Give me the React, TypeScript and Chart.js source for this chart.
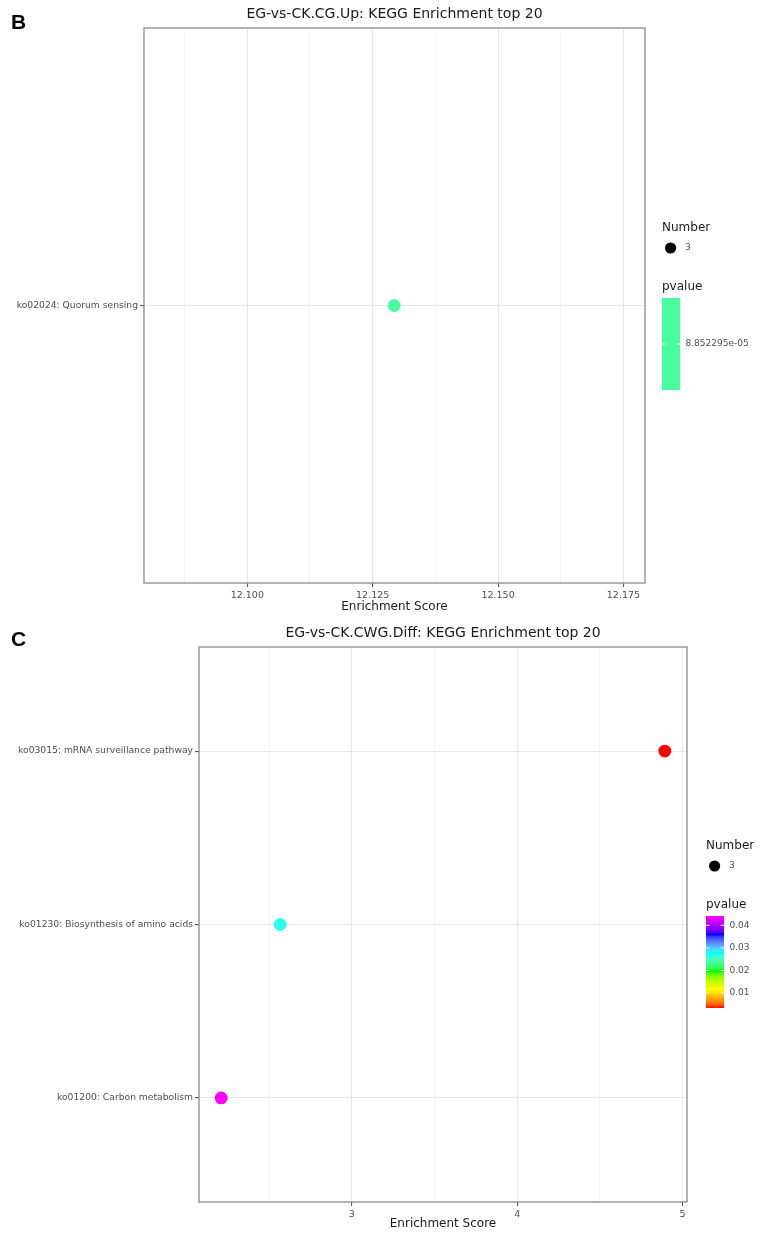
import React, { useEffect, useRef } from 'react';
import { Chart, registerables } from 'chart.js';
Chart.register(...registerables);

const FONT = "'DejaVu Sans', 'Noto Sans', sans-serif";

// ---------- Panel B data ----------
const B_TITLE = 'EG-vs-CK.CG.Up: KEGG Enrichment top 20';
const B_PATHWAYS = ['ko02024: Quorum sensing'];
const B_SCORES = [12.1293];
const B_PVALUES = [8.852295e-5];
const B_NUMBERS = [3];
const B_X_TICKS = [12.1, 12.125, 12.15, 12.175];
const B_X_LIMITS = [12.0794, 12.1793];
const B_P_TICKS = [8.852295e-5];
const B_P_TICK_LABELS = ['8.852295e-05'];
const B_SIZE_KEYS = [3];

// ---------- Panel C data ----------
const C_TITLE = 'EG-vs-CK.CWG.Diff: KEGG Enrichment top 20';
const C_PATHWAYS = [
  'ko03015: mRNA surveillance pathway',
  'ko01230: Biosynthesis of amino acids',
  'ko01200: Carbon metabolism',
];
const C_SCORES = [4.893, 2.567, 2.21];
const C_PVALUES = [0.0034, 0.027, 0.0441];
const C_NUMBERS = [3, 3, 3];
const C_X_TICKS = [3, 4, 5];
const C_X_LIMITS = [2.076, 5.027];
const C_P_TICKS = [0.01, 0.02, 0.03, 0.04];
const C_P_TICK_LABELS = ['0.01', '0.02', '0.03', '0.04'];
const C_SIZE_KEYS = [3];

const RAINBOW = [
  [255, 0, 0],
  [255, 255, 0],
  [0, 255, 0],
  [0, 255, 255],
  [0, 0, 255],
  [255, 0, 255],
];

// --- Lab interpolation (like ggplot's gradient_n_pal) ---
function toLin(c: number) {
  const v = c / 255;
  return v <= 0.04045 ? v / 12.92 : Math.pow((v + 0.055) / 1.055, 2.4);
}
function fromLin(v: number) {
  const c = v <= 0.0031308 ? 12.92 * v : 1.055 * Math.pow(v, 1 / 2.4) - 0.055;
  return Math.round(Math.max(0, Math.min(1, c)) * 255);
}
const WX = 0.95047, WY = 1.0, WZ = 1.08883;
function fLab(t: number) {
  return t > 216 / 24389 ? Math.cbrt(t) : (24389 / 27 * t + 16) / 116;
}
function fInv(t: number) {
  const t3 = t * t * t;
  return t3 > 216 / 24389 ? t3 : (116 * t - 16) / (24389 / 27);
}
function rgbToLab(rgb: number[]) {
  const r = toLin(rgb[0]), g = toLin(rgb[1]), b = toLin(rgb[2]);
  const x = 0.4124 * r + 0.3576 * g + 0.1805 * b;
  const y = 0.2126 * r + 0.7152 * g + 0.0722 * b;
  const z = 0.0193 * r + 0.1192 * g + 0.9505 * b;
  const fx = fLab(x / WX), fy = fLab(y / WY), fz = fLab(z / WZ);
  return [116 * fy - 16, 500 * (fx - fy), 200 * (fy - fz)];
}
function labToRgb(lab: number[]) {
  const fy = (lab[0] + 16) / 116;
  const fx = fy + lab[1] / 500;
  const fz = fy - lab[2] / 200;
  const x = WX * fInv(fx), y = WY * fInv(fy), z = WZ * fInv(fz);
  const r = 3.2406 * x - 1.5372 * y - 0.4986 * z;
  const g = -0.9689 * x + 1.8758 * y + 0.0415 * z;
  const b = 0.0557 * x - 0.204 * y + 1.057 * z;
  return [fromLin(r), fromLin(g), fromLin(b)];
}
const RAINBOW_LAB = RAINBOW.map(rgbToLab);

function rainbowAt(t: number): string {
  const tt = Math.max(0, Math.min(1, t));
  const seg = tt * (RAINBOW_LAB.length - 1);
  const i = Math.min(RAINBOW_LAB.length - 2, Math.floor(seg));
  const f = seg - i;
  const a = RAINBOW_LAB[i];
  const b = RAINBOW_LAB[i + 1];
  const lab = a.map((v, k) => v + (b[k] - v) * f);
  const c = labToRgb(lab);
  return `rgb(${c[0]},${c[1]},${c[2]})`;
}

function makeColorFn(pvalues: number[]) {
  const lo = Math.min(...pvalues);
  const hi = Math.max(...pvalues);
  return (p: number) => (hi === lo ? rainbowAt(0.5) : rainbowAt((p - lo) / (hi - lo)));
}

interface PanelSpec {
  letter: string;
  title: string;
  pathways: string[];
  scores: number[];
  pvalues: number[];
  numbers: number[];
  xTicks: number[];
  xLimits: number[];
  xFormat: (v: number) => string;
  pTicks: number[];
  pTickLabels: string[];
  sizeKeys: number[];
  height: number;
  area: { left: number; right: number; top: number; bottom: number };
  titleY: number;
  letterY: number;
  xTitlePad: number;
  legendX: number;
}

const WIDTH = 760;

function buildConfig(s: PanelSpec): any {
  const colorOf = makeColorFn(s.pvalues);
  const step = s.xTicks[1] - s.xTicks[0];
  const gridVals: number[] = [];
  const first = s.xTicks[0] - step * Math.ceil((s.xTicks[0] - s.xLimits[0]) / step);
  for (let v = first - step / 2; v <= s.xLimits[1] + 1e-9; v += step / 2) {
    if (v >= s.xLimits[0] - 1e-9) gridVals.push(Number(v.toFixed(6)));
  }
  const isMajor = (v: number) => s.xTicks.some((t) => Math.abs(t - v) < step * 1e-3);

  const points = s.scores.map((x, i) => ({ x, y: i }));

  const decor = {
    id: 'decor' + s.letter,
    afterDraw(chart: any) {
      const ctx = chart.ctx;
      const a = chart.chartArea;
      ctx.save();
      // panel border
      ctx.strokeStyle = '#8a8a8a';
      ctx.lineWidth = 1.3;
      ctx.strokeRect(a.left, a.top, a.right - a.left, a.bottom - a.top);
      // title
      ctx.fillStyle = '#1a1a1a';
      ctx.font = `14px ${FONT}`;
      ctx.textAlign = 'center';
      ctx.textBaseline = 'middle';
      ctx.fillText(s.title, (a.left + a.right) / 2, s.titleY);
      // panel letter
      ctx.font = `bold 21px 'Liberation Sans', Arial, sans-serif`;
      ctx.textAlign = 'left';
      ctx.fillStyle = '#000';
      ctx.fillText(s.letter, 11, s.letterY);

      // legend
      const lx = s.legendX;
      ctx.textAlign = 'left';
      ctx.textBaseline = 'middle';
      ctx.fillStyle = '#1a1a1a';
      ctx.font = `12px ${FONT}`;
      ctx.fillText('Number', lx, 228);
      s.sizeKeys.forEach((k, i) => {
        const y = 248 + i * 17;
        ctx.fillStyle = '#000';
        ctx.beginPath();
        ctx.arc(lx + 8.6, y, 5.6, 0, Math.PI * 2);
        ctx.fill();
        ctx.fillStyle = '#4d4d4d';
        ctx.font = `9px ${FONT}`;
        ctx.fillText(String(k), lx + 23, y);
      });
      ctx.fillStyle = '#1a1a1a';
      ctx.font = `12px ${FONT}`;
      ctx.fillText('pvalue', lx, 287);
      const barTop = 298;
      const barBottom = 390;
      const barW = 18;
      const lo = Math.min(...s.pvalues);
      const hi = Math.max(...s.pvalues);
      if (hi === lo) {
        ctx.fillStyle = colorOf(lo);
      } else {
        const g = ctx.createLinearGradient(0, barBottom, 0, barTop);
        const n = 40;
        for (let i = 0; i <= n; i++) g.addColorStop(i / n, rainbowAt(i / n));
        ctx.fillStyle = g;
      }
      ctx.fillRect(lx, barTop, barW, barBottom - barTop);
      s.pTicks.forEach((p, i) => {
        const y = hi === lo ? (barTop + barBottom) / 2 : barBottom - ((p - lo) / (hi - lo)) * (barBottom - barTop);
        ctx.strokeStyle = 'rgba(255,255,255,0.9)';
        ctx.lineWidth = 1;
        ctx.beginPath();
        ctx.moveTo(lx, y);
        ctx.lineTo(lx + 3.6, y);
        ctx.moveTo(lx + barW - 3.6, y);
        ctx.lineTo(lx + barW, y);
        ctx.stroke();
        ctx.fillStyle = '#4d4d4d';
        ctx.font = `9px ${FONT}`;
        ctx.fillText(s.pTickLabels[i], lx + barW + 5.5, y);
      });
      ctx.restore();
    },
  };

  return {
    type: 'scatter',
    data: {
      datasets: [
        {
          data: points,
          pointRadius: 6.4,
          pointHoverRadius: 6.4,
          pointBorderWidth: 0,
          pointBackgroundColor: s.pvalues.map((p) => colorOf(p)),
          pointBorderColor: s.pvalues.map((p) => colorOf(p)),
        },
      ],
    },
    options: {
      responsive: false,
      animation: false,
      events: [],
      layout: {
        padding: { top: s.area.top, right: WIDTH - s.area.right, left: 0, bottom: 0 },
      },
      plugins: { legend: { display: false }, tooltip: { enabled: false }, title: { display: false } },
      scales: {
        x: {
          type: 'linear',
          min: s.xLimits[0],
          max: s.xLimits[1],
          afterBuildTicks: (sc: any) => {
            sc.ticks = gridVals.map((v) => ({ value: v }));
          },
          afterFit: (sc: any) => {
            sc.height = s.height - s.area.bottom;
          },
          border: { display: false },
          grid: {
            drawTicks: true,
            tickLength: 4,
            color: (c: any) => (isMajor(c.tick.value) ? '#e8e8e8' : '#f2f2f2'),
            lineWidth: (c: any) => (isMajor(c.tick.value) ? 1.1 : 0.8),
            tickColor: (c: any) => (isMajor(c.tick.value) ? '#555555' : 'rgba(0,0,0,0)'),
            tickWidth: 1.1,
          },
          ticks: {
            autoSkip: false,
            maxRotation: 0,
            minRotation: 0,
            padding: 3,
            color: '#4d4d4d',
            font: { family: FONT, size: 9.5 },
            callback: (v: any) => (isMajor(Number(v)) ? s.xFormat(Number(v)) : ''),
          },
          title: {
            display: true,
            text: 'Enrichment Score',
            color: '#1a1a1a',
            font: { family: FONT, size: 12 },
            padding: { top: 0, bottom: s.xTitlePad },
          },
        },
        y: {
          type: 'linear',
          reverse: true,
          min: -0.6,
          max: s.pathways.length - 1 + 0.6,
          afterBuildTicks: (sc: any) => {
            sc.ticks = s.pathways.map((_, i) => ({ value: i }));
          },
          afterFit: (sc: any) => {
            sc.width = s.area.left;
          },
          border: { display: false },
          grid: {
            drawTicks: true,
            tickLength: 4,
            color: '#e8e8e8',
            lineWidth: 1.1,
            tickColor: '#555555',
            tickWidth: 1.1,
          },
          ticks: {
            autoSkip: false,
            padding: 2,
            color: '#4d4d4d',
            font: { family: FONT, size: 9.2 },
            callback: (v: any) => s.pathways[Math.round(Number(v))] ?? '',
          },
        },
      },
    },
    plugins: [decor],
  };
}

const PANEL_B: PanelSpec = {
  letter: 'B',
  title: B_TITLE,
  pathways: B_PATHWAYS,
  scores: B_SCORES,
  pvalues: B_PVALUES,
  numbers: B_NUMBERS,
  xTicks: B_X_TICKS,
  xLimits: B_X_LIMITS,
  xFormat: (v) => v.toFixed(3),
  pTicks: B_P_TICKS,
  pTickLabels: B_P_TICK_LABELS,
  sizeKeys: B_SIZE_KEYS,
  height: 618,
  area: { left: 144, right: 645, top: 28, bottom: 583 },
  titleY: 14,
  letterY: 23,
  xTitlePad: 4,
  legendX: 662,
};

const PANEL_C: PanelSpec = {
  letter: 'C',
  title: C_TITLE,
  pathways: C_PATHWAYS,
  scores: C_SCORES,
  pvalues: C_PVALUES,
  numbers: C_NUMBERS,
  xTicks: C_X_TICKS,
  xLimits: C_X_LIMITS,
  xFormat: (v) => String(Math.round(v)),
  pTicks: C_P_TICKS,
  pTickLabels: C_P_TICK_LABELS,
  sizeKeys: C_SIZE_KEYS,
  height: 622,
  area: { left: 199, right: 687, top: 29, bottom: 584 },
  titleY: 15,
  letterY: 22,
  xTitlePad: 9,
  legendX: 706,
};

export default function App() {
  const refB = useRef<HTMLCanvasElement | null>(null);
  const refC = useRef<HTMLCanvasElement | null>(null);

  useEffect(() => {
    const charts: Chart[] = [];
    if (refB.current) charts.push(new Chart(refB.current, buildConfig(PANEL_B)));
    if (refC.current) charts.push(new Chart(refC.current, buildConfig(PANEL_C)));
    return () => charts.forEach((c) => c.destroy());
  }, []);

  return (
    <div style={{ position: 'absolute', left: 0, top: 0, width: WIDTH, height: 1240, background: '#fff' }}>
      <canvas
        ref={refB}
        width={WIDTH}
        height={PANEL_B.height}
        style={{ position: 'absolute', left: 0, top: 0, width: WIDTH, height: PANEL_B.height }}
      />
      <canvas
        ref={refC}
        width={WIDTH}
        height={PANEL_C.height}
        style={{ position: 'absolute', left: 0, top: PANEL_B.height, width: WIDTH, height: PANEL_C.height }}
      />
    </div>
  );
}
